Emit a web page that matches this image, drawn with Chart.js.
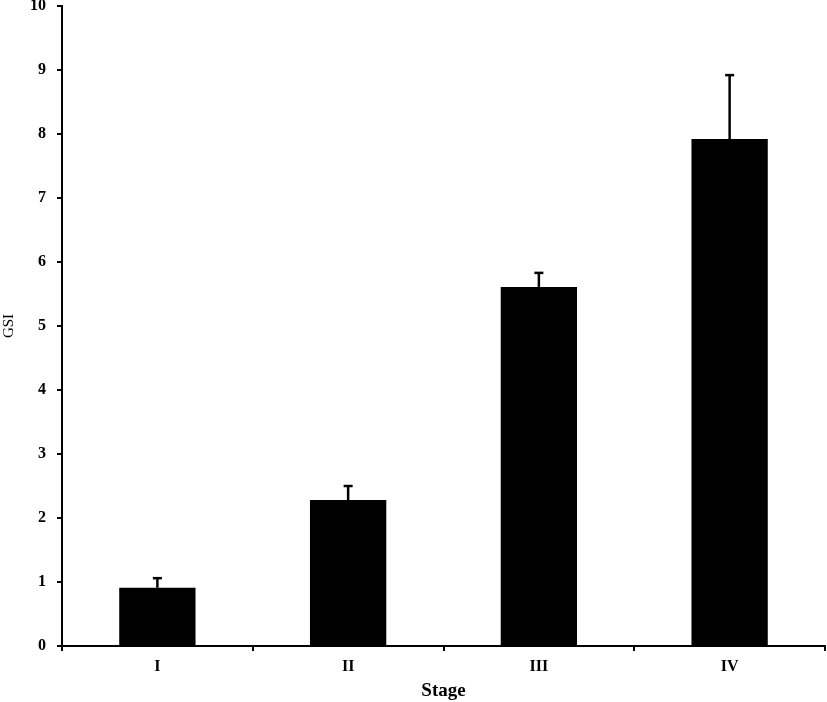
<!DOCTYPE html>
<html>
<head>
<meta charset="utf-8">
<script src="https://cdn.jsdelivr.net/npm/chart.js@4/dist/chart.umd.min.js"></script>
<style>
html,body{margin:0;padding:0;background:#fff;}
#wrap{width:827px;height:702px;position:relative;}
</style>
</head>
<body>
<div id="wrap"><canvas id="c" width="827" height="702"></canvas></div>
<script>
const categories = ["I", "II", "III", "IV"];
const gsiMeans = [0.91, 2.28, 5.61, 7.92];
const gsiErrors = [0.15, 0.22, 0.22, 1.00];
const yTicks = [0, 1, 2, 3, 4, 5, 6, 7, 8, 9, 10];

const FONT = '"Liberation Serif", "Times New Roman", serif';

const errorBarPlugin = {
  id: 'errorBars',
  afterDatasetsDraw(chart) {
    const ctx = chart.ctx;
    const yScale = chart.scales.y;
    const meta = chart.getDatasetMeta(0);
    ctx.save();
    ctx.strokeStyle = '#000';
    ctx.lineWidth = 2.5;
    meta.data.forEach((el, i) => {
      const top = yScale.getPixelForValue(gsiMeans[i] + gsiErrors[i]);
      ctx.beginPath();
      ctx.moveTo(el.x, el.y);
      ctx.lineTo(el.x, top);
      ctx.stroke();
      ctx.beginPath();
      ctx.moveTo(el.x - 4.5, top);
      ctx.lineTo(el.x + 4.5, top);
      ctx.stroke();
    });
    ctx.restore();
  }
};

new Chart(document.getElementById('c'), {
  type: 'bar',
  data: {
    labels: categories,
    datasets: [{
      data: gsiMeans,
      backgroundColor: '#000',
      borderWidth: 0,
      categoryPercentage: 0.8,
      barPercentage: 0.5
    }]
  },
  plugins: [errorBarPlugin],
  options: {
    responsive: false,
    animation: false,
    layout: { padding: { top: 6, right: 2, left: 0, bottom: 0 } },
    plugins: { legend: { display: false }, tooltip: { enabled: false } },
    scales: {
      x: {
        grid: { offset: true, drawOnChartArea: false, tickLength: 5, color: '#000', lineWidth: 2 },
        border: { color: '#000', width: 2 },
        ticks: { color: '#000', font: { family: FONT, size: 16, weight: 'bold' }, padding: 6 },
        title: { display: true, text: 'Stage', color: '#000', font: { family: FONT, size: 19, weight: 'bold' }, padding: { top: 4, bottom: 0 } },
        afterFit(scale) { scale.height = 56; scale.paddingLeft = 0; scale.paddingRight = 0; }
      },
      y: {
        min: 0, max: 10,
        afterBuildTicks(scale) { scale.ticks = yTicks.map(v => ({ value: v })); },
        grid: { drawOnChartArea: false, tickLength: 5, color: '#000', lineWidth: 2 },
        border: { color: '#000', width: 2 },
        ticks: { color: '#000', font: { family: FONT, size: 16, weight: 'bold' }, padding: 11 },
        title: { display: true, text: 'GSI', color: '#000', font: { family: FONT, size: 15 }, padding: { top: 0, bottom: 4 } },
        afterFit(scale) { scale.width = 62; scale.paddingTop = 0; scale.paddingBottom = 0; }
      }
    }
  }
});
</script>
</body>
</html>
